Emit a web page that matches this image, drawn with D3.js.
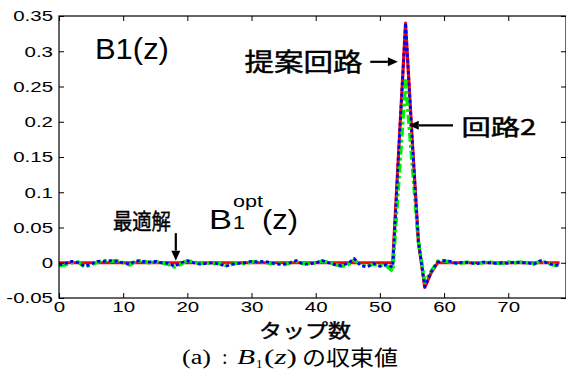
<!DOCTYPE html>
<html>
<head>
<meta charset="utf-8">
<script src="https://cdn.jsdelivr.net/npm/d3@7"></script>
<style>
  body { margin: 0; background: #fff; }
  svg { display: block; }
</style>
</head>
<body>
<div id="chart"></div>
<script>
// tap values (taps 0..78)
var taps = d3.range(0, 79);

var optimum = taps.map(function(i) {
    var peak = {53: 0.17, 54: 0.34, 55: 0.18, 56: 0.03, 57: -0.035, 58: -0.014};
    return i in peak ? peak[i] : 0;
});

var circuit2 = [
    -0.004, -0.003, 0.000, 0.001, -0.006, -0.003, 0.001, 0.003, 0.002, 0.003,
     0.000, -0.003, 0.002, 0.003, 0.000, 0.002, 0.000, -0.002, -0.006, -0.002,
     0.003, 0.001, -0.001, 0.000, -0.001, -0.001, -0.004, -0.002, 0.000, -0.001,
     0.001, 0.002, 0.001, -0.001, -0.001, -0.003, 0.000, 0.002, -0.001, -0.001,
     0.000, 0.002, 0.001, -0.002, -0.005, -0.003, 0.004, -0.003, -0.005, -0.002,
    -0.004, -0.004, -0.012, 0.125, 0.258, 0.145, 0.030, -0.028, -0.012, 0.002,
     0.003, 0.001, -0.001, 0.000, 0.001, -0.001, 0.000, 0.001, 0.000, -0.001,
     0.001, 0.000, 0.001, 0.000, -0.001, 0.002, 0.000, -0.003, -0.005
];

var proposed = [
    -0.003, -0.001, 0.002, 0.000, -0.005, -0.002, 0.002, 0.002, 0.003, 0.002,
     0.000, -0.002, 0.003, 0.002, 0.001, 0.002, 0.000, -0.001, -0.005, 0.000,
     0.003, 0.000, -0.002, -0.001, 0.000, -0.002, -0.005, -0.002, -0.001, 0.000,
     0.002, 0.001, 0.002, 0.000, -0.002, -0.002, 0.000, 0.003, -0.002, -0.002,
     0.000, 0.003, 0.000, -0.003, -0.004, -0.001, 0.006, -0.004, -0.006, -0.001,
    -0.005, -0.003, -0.006, 0.170, 0.340, 0.180, 0.030, -0.034, -0.013, 0.001,
     0.003, 0.002, -0.001, 0.001, 0.000, -0.002, 0.001, 0.000, -0.001, 0.000,
    -0.001, 0.001, 0.000, 0.000, -0.002, 0.003, 0.000, -0.003, -0.004
];

var xTicks = [0, 10, 20, 30, 40, 50, 60, 70];
var yTicks = [-0.05, 0, 0.05, 0.1, 0.15, 0.2, 0.25, 0.3, 0.35];

var W = 566, H = 386;
var margin = {top: 16, right: 0, bottom: 88, left: 59};
var width = W - margin.left - margin.right;
var height = H - margin.top - margin.bottom;

var latin = "'Liberation Sans', Arial, sans-serif";
var cjk = "'Noto Sans CJK JP', 'Noto Sans CJK SC', sans-serif";
var serif = "'Liberation Serif', 'DejaVu Serif', serif";

// widen text horizontally like the stretched original figure
function stretch(sel, k) {
    sel.each(function() {
        var w = this.getComputedTextLength();
        d3.select(this).attr("textLength", w * k).attr("lengthAdjust", "spacingAndGlyphs");
    });
}

// CJK labels look a bit heavier than the regular face
function heavy(sel) {
    return sel.attr("stroke", "#000").attr("stroke-width", 0.45);
}

var svg = d3.select("#chart").append("svg")
    .attr("width", W)
    .attr("height", H);

svg.append("rect").attr("width", W).attr("height", H).attr("fill", "#fff");

var g = svg.append("g")
    .attr("transform", "translate(" + margin.left + "," + margin.top + ")");

var x = d3.scaleLinear().domain([0, 79]).range([0, width]);
var y = d3.scaleLinear().domain([-0.05, 0.35]).range([height, 0]);

var fmt = function(d) { return d === 0 ? "0" : String(+d.toFixed(2)); };

// series
var line = d3.line()
    .x(function(d, i) { return x(taps[i]); })
    .y(function(d) { return y(d); });

var series = [
    {values: optimum, color: "#ff0000", width: 3.2, dash: null},
    {values: circuit2, color: "#00ee00", width: 3.6, dash: "9,3,3,3"},
    {values: proposed, color: "#0000ff", width: 2.8, dash: "3.2,2.6"}
];

g.append("g").selectAll("path")
    .data(series)
    .enter().append("path")
    .attr("fill", "none")
    .attr("stroke", function(d) { return d.color; })
    .attr("stroke-width", function(d) { return d.width; })
    .attr("stroke-dasharray", function(d) { return d.dash; })
    .attr("stroke-linejoin", "round")
    .attr("d", function(d) { return line(d.values); });

// axes with inward ticks
var xAxis = g.append("g")
    .attr("transform", "translate(0," + height + ")")
    .call(d3.axisBottom(x).tickValues(xTicks).tickFormat(d3.format("d"))
        .tickSizeInner(-5).tickSizeOuter(0).tickPadding(3));
var yAxis = g.append("g")
    .call(d3.axisLeft(y).tickValues(yTicks).tickFormat(fmt)
        .tickSizeInner(-5).tickSizeOuter(0).tickPadding(6));
g.append("g")
    .call(d3.axisTop(x).tickValues(xTicks).tickFormat("").tickSizeInner(-5).tickSizeOuter(0));
g.append("g")
    .attr("transform", "translate(" + width + ",0)")
    .call(d3.axisRight(y).tickValues(yTicks).tickFormat("").tickSizeInner(-5).tickSizeOuter(0));

g.selectAll(".domain").remove();
g.selectAll(".tick line").attr("stroke", "#000");
g.append("rect")
    .attr("width", width).attr("height", height)
    .attr("fill", "none").attr("stroke", "#000").attr("stroke-width", 1.2);

[xAxis, yAxis].forEach(function(a) {
    a.selectAll("text")
        .attr("font-family", latin)
        .attr("font-size", 15.5)
        .attr("fill", "#000");
    stretch(a.selectAll("text"), 1.32);
});

// annotations
function arrow(x1, y1, x2, y2) {
    var a = Math.atan2(y2 - y1, x2 - x1), L = 10, Wd = 4.5;
    var bx = x2 - L * Math.cos(a), by = y2 - L * Math.sin(a);
    g.append("line")
        .attr("x1", x1).attr("y1", y1).attr("x2", bx).attr("y2", by)
        .attr("stroke", "#000").attr("stroke-width", 2.2);
    g.append("path")
        .attr("d", "M" + x2 + "," + y2 +
            "L" + (bx + Wd * Math.sin(a)) + "," + (by - Wd * Math.cos(a)) +
            "L" + (bx - Wd * Math.sin(a)) + "," + (by + Wd * Math.cos(a)) + "Z")
        .attr("fill", "#000");
}

g.append("text")
    .attr("x", x(5.6)).attr("y", y(0.289))
    .attr("font-family", latin).attr("font-size", 30)
    .attr("textLength", 74).attr("lengthAdjust", "spacingAndGlyphs")
    .text("B1(z)");

heavy(g.append("text")
    .attr("x", x(47.3)).attr("y", y(0.272))
    .attr("text-anchor", "end")
    .attr("font-family", cjk).attr("font-size", 25)
    .attr("textLength", 118).attr("lengthAdjust", "spacingAndGlyphs")
    .text("提案回路"));
arrow(x(48.5), y(0.285), x(52.8), y(0.285));

arrow(x(61.4), y(0.195), x(54.5), y(0.195));
heavy(g.append("text")
    .attr("x", x(62.7)).attr("y", y(0.181))
    .attr("font-family", cjk).attr("font-size", 22)
    .attr("textLength", 75).attr("lengthAdjust", "spacingAndGlyphs")
    .text("回路2"));

var opt = g.append("g")
    .attr("transform", "translate(" + x(8.4) + "," + y(0.05) + ")");
heavy(opt.append("text").attr("x", 0).attr("y", 1)
    .attr("font-family", cjk).attr("font-size", 22)
    .attr("textLength", 58).attr("lengthAdjust", "spacingAndGlyphs")
    .text("最適解"));
opt.append("text").attr("x", 96).attr("y", 1)
    .attr("font-family", latin).attr("font-size", 28)
    .attr("textLength", 23).attr("lengthAdjust", "spacingAndGlyphs")
    .text("B");
opt.append("text").attr("x", 120).attr("y", 1)
    .attr("font-family", latin).attr("font-size", 18)
    .attr("textLength", 12).attr("lengthAdjust", "spacingAndGlyphs")
    .text("1");
opt.append("text").attr("x", 120).attr("y", -21)
    .attr("font-family", latin).attr("font-size", 17)
    .attr("textLength", 30).attr("lengthAdjust", "spacingAndGlyphs")
    .text("opt");
opt.append("text").attr("x", 149).attr("y", 1)
    .attr("font-family", latin).attr("font-size", 27)
    .attr("textLength", 36).attr("lengthAdjust", "spacingAndGlyphs")
    .text("(z)");
arrow(x(18.2), y(0.042), x(18.2), y(0.003));

// x label and caption
heavy(svg.append("text")
    .attr("x", 305).attr("y", 338)
    .attr("text-anchor", "middle")
    .attr("font-family", cjk).attr("font-size", 19)
    .attr("textLength", 92).attr("lengthAdjust", "spacingAndGlyphs")
    .text("タップ数"));

var cap = svg.append("g").attr("font-size", 20).attr("fill", "#000");
cap.append("text").attr("x", 182).attr("y", 364)
    .attr("font-family", serif)
    .attr("textLength", 29).attr("lengthAdjust", "spacingAndGlyphs")
    .text("(a)");
cap.append("text").attr("x", 222).attr("y", 364)
    .attr("font-family", serif)
    .text(":");
cap.append("text").attr("x", 237).attr("y", 364)
    .attr("font-family", serif).attr("font-style", "italic").attr("font-size", 21)
    .attr("textLength", 18).attr("lengthAdjust", "spacingAndGlyphs")
    .text("B");
cap.append("text").attr("x", 256).attr("y", 368)
    .attr("font-family", serif).attr("font-size", 13)
    .text("1");
var zt = cap.append("text").attr("x", 264).attr("y", 364)
    .attr("font-family", serif)
    .attr("textLength", 33).attr("lengthAdjust", "spacingAndGlyphs");
zt.append("tspan").text("(");
zt.append("tspan").attr("font-style", "italic").text("z");
zt.append("tspan").text(")");
cap.append("text").attr("x", 302).attr("y", 365)
    .attr("font-family", cjk).attr("font-size", 21)
    .attr("textLength", 96).attr("lengthAdjust", "spacingAndGlyphs")
    .text("の収束値");
</script>
</body>
</html>
